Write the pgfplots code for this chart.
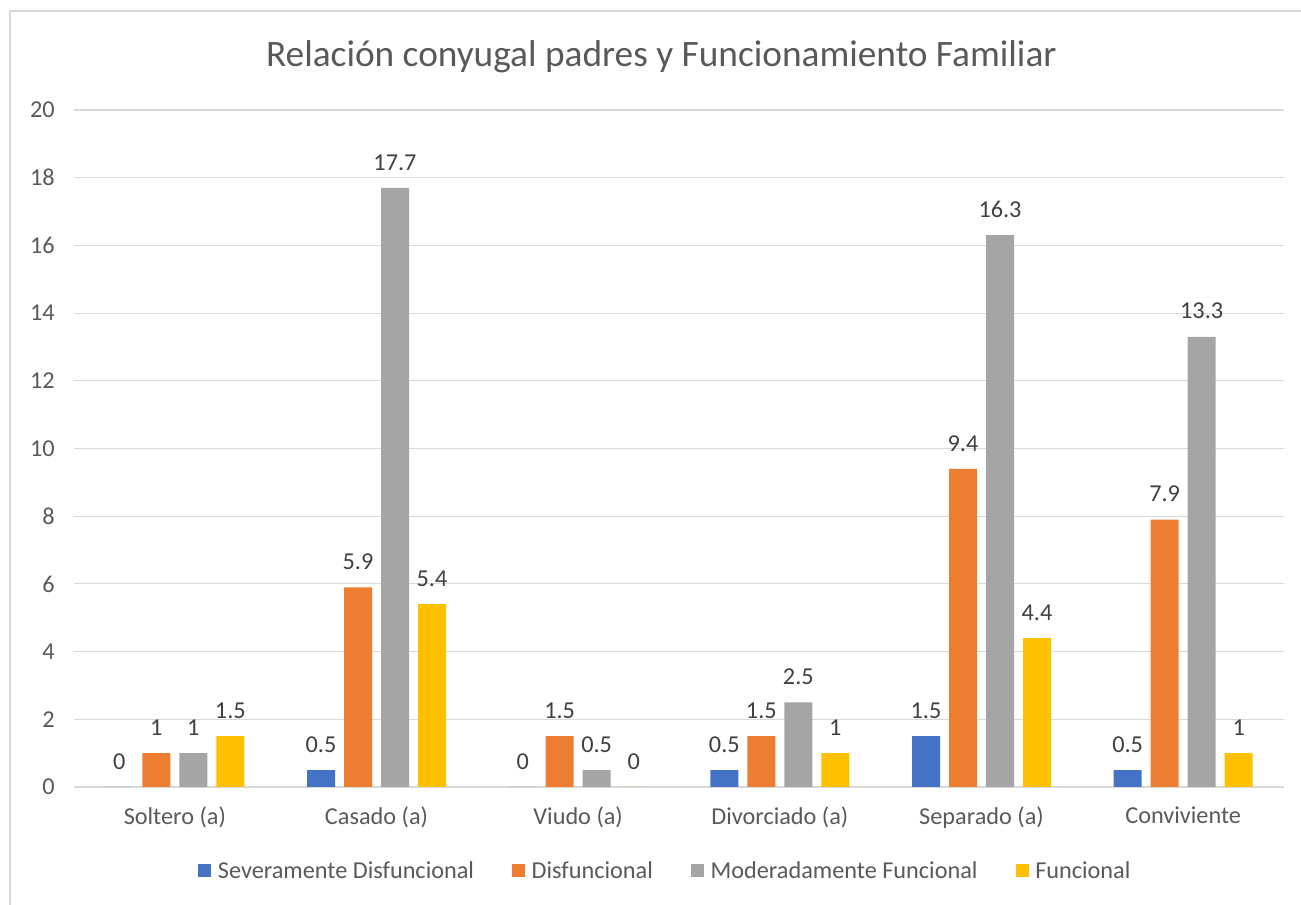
\documentclass[border=0pt]{standalone}
\usepackage{fontspec}
\setmainfont{Carlito}
\usepackage{pgfplots}
\pgfplotsset{compat=1.18}
\definecolor{cblue}{HTML}{4472C4}
\definecolor{corange}{HTML}{ED7D31}
\definecolor{cgray}{HTML}{A5A5A5}
\definecolor{cyellow}{HTML}{FFC000}
\definecolor{gridc}{HTML}{D9D9D9}
\definecolor{txt}{HTML}{595959}
\definecolor{lbl}{HTML}{404040}
\begin{document}
\begin{tikzpicture}[x=1pt,y=1pt]
\useasboundingbox (0,0) rectangle (975.75,678.75);
\draw[gridc, line width=1.1pt] (7.5,-5) -- (7.5,670.5) -- (985,670.5);
\node[font=\fontsize{28}{33}\selectfont, text=txt] at (496,636) {Relación conyugal padres y Funcionamiento Familiar};
\begin{axis}[
  at={(55.5pt,88.5pt)}, anchor=south west,
  scale only axis, width=907.5pt, height=507.75pt,
  ybar=6.75pt, bar width=21pt,
  xmin=-0.5, xmax=5.5, ymin=0, ymax=20,
  xtick={0,1,2,3,4,5},
  xticklabels={Soltero (a),Casado (a),Viudo (a),Divorciado (a),Separado (a),Conviviente},
  ytick={0,2,...,20},
  major tick length=0pt,
  axis line style={draw=none},
  ymajorgrids, grid style={gridc, line width=0.8pt},
  /pgf/number format/assume math mode=true,
  tick label style={font=\fontsize{18.2}{22}\selectfont, text=txt},
  x tick label style={yshift=-11.5pt},
  y tick label style={xshift=-11pt},
  nodes near coords,
  every node near coord/.append style={font=\fontsize{18.2}{22}\selectfont, text=lbl, anchor=south, inner sep=0pt, yshift=13pt},
  legend columns=-1,
  legend style={draw=none, at={(0.489,-0.124)}, anchor=center, font=\fontsize{18.2}{22}\selectfont, text=txt, column sep=3pt,
    /tikz/every even column/.append style={column sep=26.5pt}},
  legend image code/.code={\fill[#1] (0pt,-4.9pt) rectangle (9.75pt,4.9pt);},
]
\addplot[fill=cblue, draw=none] coordinates {(0,0) (1,0.5) (2,0) (3,0.5) (4,1.5) (5,0.5)};
\addplot[fill=corange, draw=none] coordinates {(0,1) (1,5.9) (2,1.5) (3,1.5) (4,9.4) (5,7.9)};
\addplot[fill=cgray, draw=none] coordinates {(0,1) (1,17.7) (2,0.5) (3,2.5) (4,16.3) (5,13.3)};
\addplot[fill=cyellow, draw=none] coordinates {(0,1.5) (1,5.4) (2,0) (3,1) (4,4.4) (5,1)};
\legend{Severamente Disfuncional, Disfuncional, Moderadamente Funcional, Funcional}
\end{axis}
\end{tikzpicture}
\end{document}
